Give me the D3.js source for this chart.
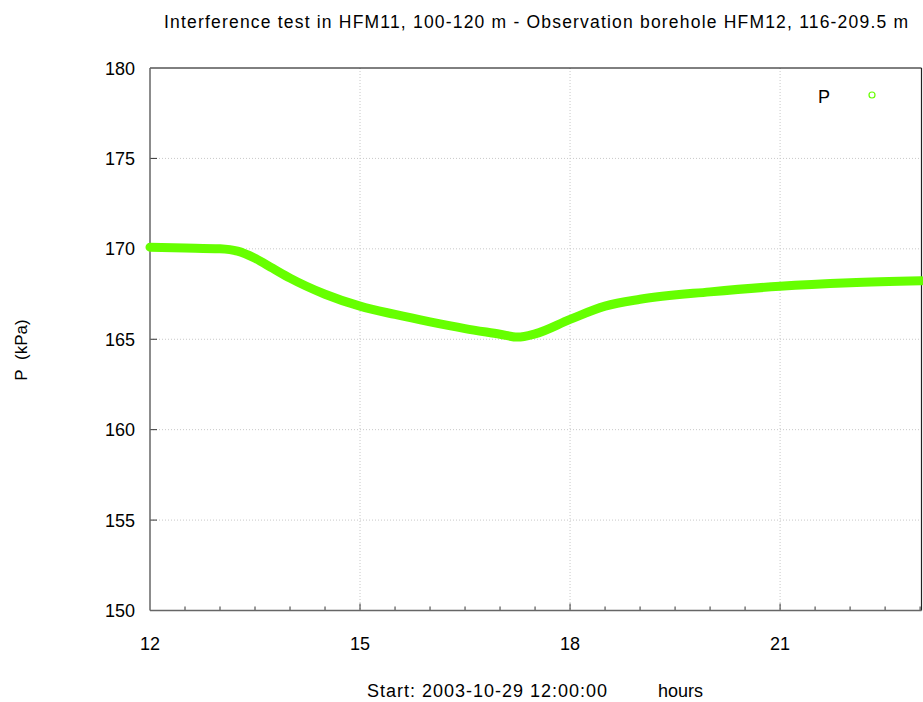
<!DOCTYPE html>
<html><head><meta charset="utf-8">
<script src="https://cdn.jsdelivr.net/npm/d3@7"></script>
<style>body{margin:0;background:#fff;} text{font-family:"Liberation Sans",Arial,sans-serif;fill:#000;}</style>
</head><body>
<svg id="c" width="923" height="702"></svg>
<script>
const hours = [12.0,12.5,13.0,13.25,13.5,13.75,14.0,14.5,15.0,15.5,16.0,16.5,17.0,17.25,17.5,18.0,18.5,19.0,20.0,21.0,22.0,23.02];
const pressure = [170.09,170.05,170.0,169.87,169.48,168.93,168.38,167.49,166.83,166.37,165.96,165.59,165.28,165.12,165.3,166.1,166.83,167.21,167.62,167.93,168.12,168.23];
const xTicks = [12,15,18,21];
const yTicks = [150,155,160,165,170,175,180];
const title = "Interference test in HFM11, 100-120 m - Observation borehole HFM12, 116-209.5 m";

const svg = d3.select("#c");
const L=150,R=921.5,T=68,B=610.5;
const x = d3.scaleLinear().domain([12,23.02]).range([L,R]);
const y = d3.scaleLinear().domain([150,180]).range([B,T]);

// grid
const g = svg.append("g");
xTicks.slice(1).forEach(t=>g.append("line").attr("x1",x(t)).attr("x2",x(t)).attr("y1",T).attr("y2",B)
  .attr("stroke","#c8c8c8").attr("stroke-width",1).attr("stroke-dasharray","1,2"));
yTicks.slice(1,-1).forEach(t=>g.append("line").attr("x1",L).attr("x2",R).attr("y1",y(t)).attr("y2",y(t))
  .attr("stroke","#c8c8c8").attr("stroke-width",1).attr("stroke-dasharray","1,2"));

// frame
svg.append("line").attr("x1",L).attr("x2",R).attr("y1",T).attr("y2",T).attr("stroke","#000").attr("stroke-width",1);
svg.append("line").attr("x1",R).attr("x2",R).attr("y1",T).attr("y2",B).attr("stroke","#222").attr("stroke-width",1.2);

// ticks
const minor = d3.range(12.5,23.01,0.5).filter(v=>!xTicks.includes(v));
minor.forEach(t=>svg.append("line").attr("x1",x(t)).attr("x2",x(t)).attr("y1",B).attr("y2",B-4).attr("stroke","#333"));
xTicks.slice(1).forEach(t=>svg.append("line").attr("x1",x(t)).attr("x2",x(t)).attr("y1",B).attr("y2",B-7).attr("stroke","#333"));
yTicks.slice(1,-1).forEach(t=>svg.append("line").attr("x1",L).attr("x2",L+7).attr("y1",y(t)).attr("y2",y(t)).attr("stroke","#333"));

// axes lines
svg.append("line").attr("x1",L).attr("x2",L).attr("y1",T).attr("y2",B).attr("stroke","#666").attr("stroke-width",1.5);
svg.append("line").attr("x1",L).attr("x2",R).attr("y1",B).attr("y2",B).attr("stroke","#666").attr("stroke-width",1.5);

// tick labels
yTicks.forEach(t=>svg.append("text").attr("x",135).attr("y",y(t)+6.5).attr("text-anchor","end").attr("font-size",18).text(t));
xTicks.forEach(t=>svg.append("text").attr("x",x(t)).attr("y",650).attr("text-anchor","middle").attr("font-size",18).text(t));

// data
const line = d3.line().x((d,i)=>x(hours[i])).y(d=>y(d)).curve(d3.curveMonotoneX);
svg.append("path").attr("d",line(pressure)).attr("fill","none").attr("stroke","#66ff00")
  .attr("stroke-width",9).attr("stroke-linecap","round").attr("stroke-linejoin","round");

// title and labels
svg.append("text").attr("x",164).attr("y",28).attr("font-size",17.5).attr("textLength",744).attr("lengthAdjust","spacing").text(title);
svg.append("text").attr("x",367).attr("y",697).attr("font-size",18).attr("textLength",240).attr("lengthAdjust","spacing").text("Start: 2003-10-29 12:00:00");
svg.append("text").attr("x",658).attr("y",697).attr("font-size",18).text("hours");
svg.append("text").attr("transform","translate(27,350) rotate(-90)").attr("text-anchor","middle").attr("font-size",17).text("P\u00a0\u00a0(kPa)");

// legend
svg.append("text").attr("x",818).attr("y",103).attr("font-size",18).text("P");
svg.append("circle").attr("cx",872).attr("cy",95).attr("r",3).attr("fill","none").attr("stroke","#66ff00").attr("stroke-width",1.2);
</script>
</body></html>
